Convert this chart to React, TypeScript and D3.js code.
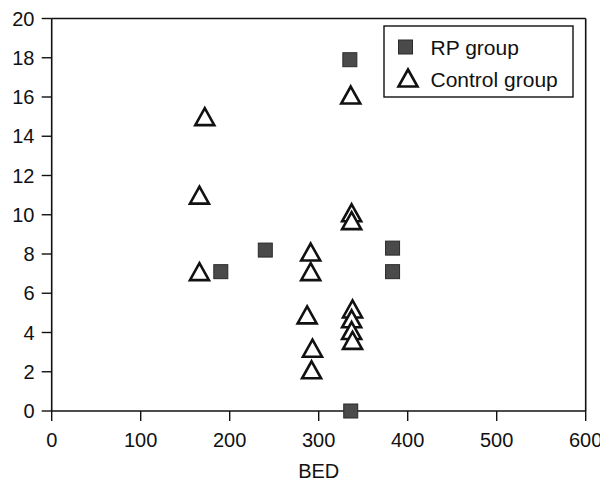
import React from "react";
import * as d3 from "d3";

// RP group: BED vs. value
const rpBed = [335, 190, 240, 383, 383, 336];
const rpVal = [17.9, 7.1, 8.2, 8.3, 7.1, 0];

// Control group: BED vs. value
const ctrlBed = [172, 166, 166, 291, 291, 287, 293, 292, 336, 337, 337, 338, 337, 337, 338];
const ctrlVal = [15, 11, 7.1, 8.1, 7.1, 4.9, 3.2, 2.1, 16.1, 10.1, 9.7, 5.2, 4.7, 4.1, 3.6];

const xTicks = [0, 100, 200, 300, 400, 500, 600];
const yTicks = [0, 2, 4, 6, 8, 10, 12, 14, 16, 18, 20];

const legendLabels = ["RP group", "Control group"];
const xTitle = "BED";

const W = 600;
const H = 481;
const M = { left: 51.7, right: 585.7, top: 18.5, bottom: 411 };
const FONT = "'Liberation Sans', Arial, Helvetica, sans-serif";
const INK = "#111";

function Triangle({ cx, cy }: { cx: number; cy: number }) {
  const w = 19;
  const h = 17;
  const p = d3.path();
  p.moveTo(cx, cy - h / 2);
  p.lineTo(cx + w / 2, cy + h / 2);
  p.lineTo(cx - w / 2, cy + h / 2);
  p.closePath();
  return <path d={p.toString()} fill="#fff" stroke={INK} strokeWidth={2.6} strokeLinejoin="miter" />;
}

function Square({ cx, cy }: { cx: number; cy: number }) {
  const s = 14;
  return <rect x={cx - s / 2} y={cy - s / 2} width={s} height={s} fill="#4a4a4a" stroke="#2a2a2a" strokeWidth={1} />;
}

export default function App() {
  const x = d3.scaleLinear().domain([0, 600]).range([M.left, M.right]);
  const y = d3.scaleLinear().domain([0, 20]).range([M.bottom, M.top]);

  return (
    <svg width={W} height={H} style={{ position: "absolute", left: 0, top: 0, background: "#fff" }} fontFamily={FONT}>
      <rect width={W} height={H} fill="#fff" />
      {/* frame */}
      <line x1={x(0)} x2={x(600)} y1={y(0)} y2={y(0)} stroke={INK} strokeWidth={1.6} />
      <line x1={x(0)} x2={x(0)} y1={y(0)} y2={y(20)} stroke={INK} strokeWidth={1.6} />
      <line x1={x(0)} x2={x(600)} y1={y(20)} y2={y(20)} stroke={INK} strokeWidth={1.6} />
      <line x1={x(600)} x2={x(600)} y1={y(0)} y2={y(20)} stroke={INK} strokeWidth={1.6} />

      {/* y axis ticks and labels */}
      {yTicks.map((t) => (
        <g key={`y${t}`}>
          <line x1={x(0) - 10} x2={x(0)} y1={y(t)} y2={y(t)} stroke={INK} strokeWidth={1.4} />
          <text x={34.5} y={y(t)} dy="0.36em" textAnchor="end" fontSize={20} fill={INK}>
            {t}
          </text>
        </g>
      ))}

      {/* x axis ticks and labels */}
      {xTicks.map((t) => (
        <g key={`x${t}`}>
          <line x1={x(t)} x2={x(t)} y1={y(0)} y2={y(0) + 10} stroke={INK} strokeWidth={1.4} />
          <text x={x(t)} y={446.5} textAnchor="middle" fontSize={20} fill={INK}>
            {t}
          </text>
        </g>
      ))}
      <text x={x(300)} y={477.5} textAnchor="middle" fontSize={20} fill={INK}>
        {xTitle}
      </text>

      {/* data */}
      {ctrlBed.map((b, i) => (
        <Triangle key={`c${i}`} cx={x(b)} cy={y(ctrlVal[i])} />
      ))}
      {rpBed.map((b, i) => (
        <Square key={`r${i}`} cx={x(b)} cy={y(rpVal[i])} />
      ))}

      {/* legend */}
      <rect x={384} y={26} width={189} height={71} fill="#fff" stroke={INK} strokeWidth={1.4} />
      <Square cx={405.5} cy={47} />
      <text x={430.5} y={55} fontSize={21} fill={INK}>
        {legendLabels[0]}
      </text>
      <Triangle cx={408} cy={78} />
      <text x={430.5} y={86.5} fontSize={21} fill={INK}>
        {legendLabels[1]}
      </text>
    </svg>
  );
}
